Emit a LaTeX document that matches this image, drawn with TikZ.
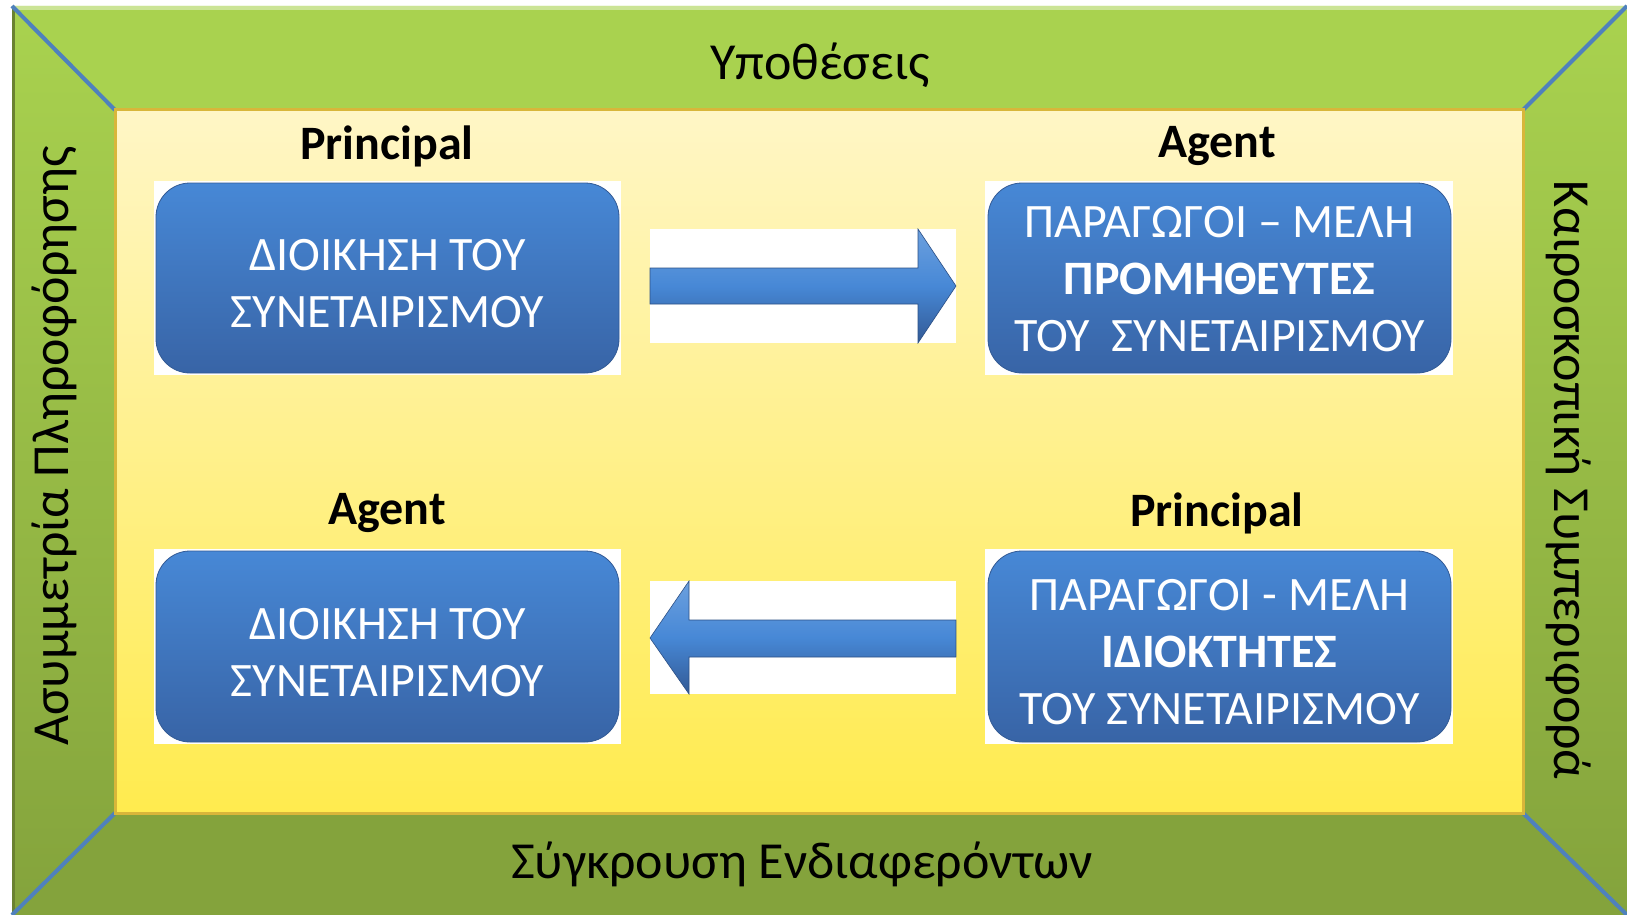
\documentclass[tikz,border=0pt]{standalone}
\usepackage{fontspec}
\setmainfont{Carlito}
\begin{document}
\begin{tikzpicture}[x=1pt,y=-1pt]
\definecolor{glight}{HTML}{A9D24F}
\definecolor{gdark}{HTML}{84A33C}
\definecolor{bline}{HTML}{4F81BD}
\definecolor{creamtop}{HTML}{FFF6C6}
\definecolor{yellowbot}{HTML}{FFEB4E}
\definecolor{goldedge}{HTML}{D8B63A}
\definecolor{btop}{HTML}{4788D6}
\definecolor{bbot}{HTML}{3864A6}
\tikzset{
  bluebox/.style={draw=bbot!90!black, line width=0.8pt, rounded corners=34pt, top color=btop, bottom color=bbot, minimum width=463pt, minimum height=190pt, inner sep=0pt},
  boxtext/.style={text=white, align=center, inner sep=0pt, font=\fontsize{48}{57}\selectfont},
  whitebg/.style={fill=white, draw=none},
  rolelabel/.style={font=\fontsize{48}{52}\selectfont\bfseries, text=black},
  framelabel/.style={font=\fontsize{52}{58}\selectfont, text=black},
  blockarrow/.style={draw=bbot!80!black, line width=0.6pt, top color=btop!80!white, bottom color=bbot!90!black, middle color=btop},
  diag/.style={draw=bline, line width=4pt}
}
\useasboundingbox (0,0) rectangle (1627,915);
\fill[white] (0,0) rectangle (1627,915);
% frame bands
\fill[glight] (12,6) -- (1627,6) -- (1523,110) -- (115,110) -- cycle;
\fill[gdark] (12,915) -- (1627,915) -- (1523,813) -- (115,813) -- cycle;
\shade[top color=glight, bottom color=gdark] (12,6) -- (115,110) -- (115,813) -- (12,915) -- cycle;
\shade[top color=glight, bottom color=gdark] (1627,6) -- (1523,110) -- (1523,813) -- (1627,915) -- cycle;
\fill[glight!60!white] (12,6) rectangle (1627,10);
\fill[gdark!80!black] (12,6) rectangle (15,915);
% diagonals
\draw[diag] (12,6) -- (115,110);
\draw[diag] (1627,6) -- (1523,110);
\draw[diag] (12,915) -- (115,813);
\draw[diag] (1627,915) -- (1523,813);
% inner panel
\shade[top color=creamtop, bottom color=yellowbot] (115,110) rectangle (1523,813);
\draw[goldedge, line width=3pt] (115,110) rectangle (1523,813);
% frame labels
\node[framelabel] (hyp) at (820,65) {Υποθέσεις};
\node[framelabel] (conf) at (802,864) {Σύγκρουση Ενδιαφερόντων};
\node[framelabel, rotate=90] (asym) at (54,446) {Ασυμμετρία Πληροφόρησης};
\node[framelabel, rotate=-90] (opp) at (1569,480) {Καιροσκοπική Συμπεριφορά};
% white backings
\fill[whitebg] (154,181) rectangle (621,375);
\fill[whitebg] (985,181) rectangle (1453,375);
\fill[whitebg] (154,549) rectangle (621,744);
\fill[whitebg] (985,549) rectangle (1453,744);
\node[whitebg, minimum width=306pt, minimum height=114pt, inner sep=0pt] (wa1) at (803,286) {};
\node[whitebg, minimum width=306pt, minimum height=113pt, inner sep=0pt] (wa2) at (803,637.5) {};
% boxes
\node[bluebox] (b1) at (387.5,278) {};
\node[bluebox] (b2) at (1219.5,278) {};
\node[bluebox, minimum height=191pt] (b3) at (387.5,646.5) {};
\node[bluebox, minimum height=191pt] (b4) at (1219.5,646.5) {};
\node[boxtext] (t1) at (387.5,284) {ΔΙΟΙΚΗΣΗ ΤΟΥ\\ΣΥΝΕΤΑΙΡΙΣΜΟΥ};
\node[boxtext] (t2) at (1219.5,279) {ΠΑΡΑΓΩΓΟΙ – ΜΕΛΗ\\\textbf{ΠΡΟΜΗΘΕΥΤΕΣ}\\ΤΟΥ\ \ ΣΥΝΕΤΑΙΡΙΣΜΟΥ};
\node[boxtext] (t3) at (387.5,652.5) {ΔΙΟΙΚΗΣΗ ΤΟΥ\\ΣΥΝΕΤΑΙΡΙΣΜΟΥ};
\node[boxtext] (t4) at (1219.5,652.5) {ΠΑΡΑΓΩΓΟΙ - ΜΕΛΗ\\\textbf{ΙΔΙΟΚΤΗΤΕΣ}\\ΤΟΥ ΣΥΝΕΤΑΙΡΙΣΜΟΥ};
% role labels
\node[rolelabel] (p1) at (387,146) {Principal};
\node[rolelabel] (a1) at (1217,146) {Agent};
\node[rolelabel] (a2) at (387,513) {Agent};
\node[rolelabel] (p2) at (1217,513) {Principal};
% block arrows
\draw[blockarrow] (650,268) -- (918,268) -- (918,229) -- (956,286) -- (918,343) -- (918,304) -- (650,304) -- cycle;
\draw[blockarrow] (956,620) -- (689,620) -- (689,581) -- (650,638) -- (689,694) -- (689,657) -- (956,657) -- cycle;
\end{tikzpicture}
\end{document}
